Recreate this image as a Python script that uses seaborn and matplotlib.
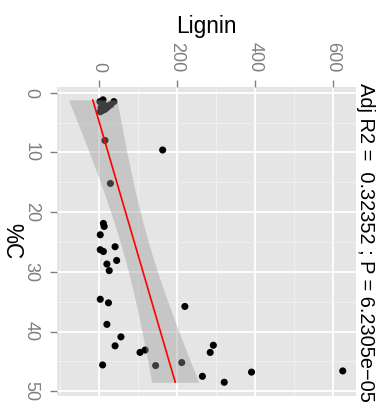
import numpy as np
import pandas as pd
import matplotlib
matplotlib.use("Agg")
import matplotlib.pyplot as plt
import seaborn as sns

# Data
lignin = [2, 5, 8, 12, 15, 20, 25, 30, 38, 10, 3, 15, 163, 29, 11, 13, 3, 41, 3, 11,
          45, 20, 26, 3, 24, 220, 20, 56, 41, 118, 105, 9, 145, 212, 265, 293, 285,
          391, 321, 625]
carbon = [1.5, 2.5, 3.0, 2.0, 2.8, 2.5, 2.2, 2.0, 1.5, 1.2, 3.2, 8.0, 9.6, 15.2, 21.9,
          22.4, 23.8, 25.8, 26.3, 26.6, 28.1, 28.7, 29.8, 34.6, 35.2, 35.8, 38.8, 40.9,
          42.4, 43.1, 43.5, 45.6, 45.7, 45.2, 47.5, 42.3, 43.5, 46.8, 48.5, 46.6]
lignin_ticks = [0, 200, 400, 600]
carbon_ticks = [0, 10, 20, 30, 40, 50]
title_text = "Adj R2 =  0.32352 ; P = 6.2305e\u221205"

df = pd.DataFrame({"Lignin": lignin, "C": carbon})

sns.set_theme(style="white")
plt.rcParams["font.family"] = ["Liberation Sans", "DejaVu Sans"]

W, H = 391, 405
fig = plt.figure(figsize=(W / 100, H / 100), dpi=100)
pl, pr, pt, pb = 57, 356, 87, 396
ax = fig.add_axes([pl / W, (H - pb) / H, (pr - pl) / W, (pb - pt) / H])
ax.set_facecolor("#E5E5E5")
for s in ax.spines.values():
    s.set_visible(False)

# linear model: Lignin ~ C
x = df["C"].to_numpy(float)
y = df["Lignin"].to_numpy(float)
n = len(x)
b, a = np.polyfit(x, y, 1)
grid = np.linspace(x.min(), x.max(), 80)
fit = a + b * grid
resid = y - (a + b * x)
s2 = np.sum(resid ** 2) / (n - 2)
se = np.sqrt(s2 * (1 / n + (grid - x.mean()) ** 2 / np.sum((x - x.mean()) ** 2)))
tq = 2.024
fit_df = pd.DataFrame({"C": grid, "Lignin": fit})

sns.scatterplot(data=df, x="Lignin", y="C", ax=ax, color="black", s=26,
                edgecolor="none", linewidth=0, zorder=3)
ax.fill_betweenx(grid, fit - tq * se, fit + tq * se, color="#999999", alpha=0.4,
                 linewidth=0, zorder=4)
sns.lineplot(data=fit_df, x="Lignin", y="C", orient="y", ax=ax, color="red",
             linewidth=1.2, zorder=5)

ax.set_xlim(-108, 659)
ax.set_ylim(50.8, -0.95)

ax.set_xticks(lignin_ticks)
ax.set_xticklabels([str(v) for v in lignin_ticks])
ax.set_yticks(carbon_ticks)
ax.set_yticklabels([str(v) for v in carbon_ticks])
ax.set_xticks([-100, 100, 300, 500], minor=True)
ax.set_yticks([5, 15, 25, 35, 45], minor=True)
ax.grid(True, which="major", color="white", linewidth=1.3, zorder=0)
ax.grid(True, which="minor", color="#F2F2F2", linewidth=0.6, zorder=0)
ax.set_axisbelow(True)

ax.xaxis.tick_top()
ax.tick_params(axis="x", which="major", top=True, bottom=False, length=5, width=1,
               color="#7F7F7F", labelcolor="#7F7F7F", labelsize=13,
               labelrotation=270, pad=5.5)
ax.tick_params(axis="y", which="major", left=True, length=5, width=1,
               color="#7F7F7F", labelcolor="#7F7F7F", labelsize=13,
               labelrotation=270, pad=7.5)
ax.tick_params(which="minor", length=0)
for lab in ax.get_yticklabels():
    lab.set_va("center")

ax.set_xlabel("Lignin", fontsize=16.3, color="black")
ax.xaxis.set_label_position("top")
ax.xaxis.label.set_va("baseline")
ax.xaxis.set_label_coords(0.5, (H - 32.7 - (H - pb)) / (pb - pt))

ax.set_ylabel("%C", fontsize=16.3, color="black", rotation=270)
ax.yaxis.label.set_va("center")
ax.yaxis.label.set_ha("center")
ax.yaxis.set_label_coords((11.5 - pl) / (pr - pl), 0.5)

ax.text((365 - pl) / (pr - pl), (H - 242.5 - (H - pb)) / (pb - pt), title_text,
        transform=ax.transAxes, rotation=270, ha="center", va="center",
        fontsize=14.4, color="black")

fig.savefig("out.png", dpi=100, facecolor="white")
